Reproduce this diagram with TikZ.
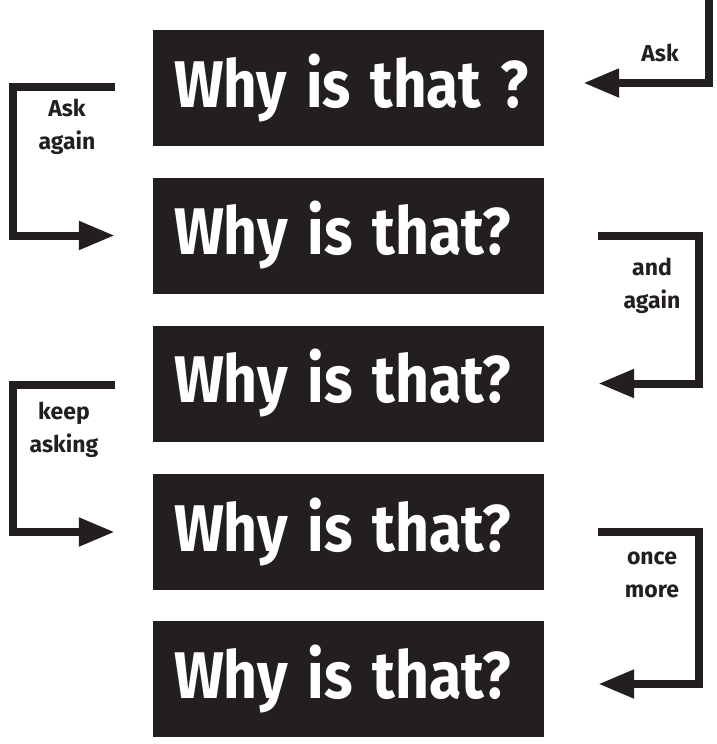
\documentclass[tikz,border=0pt]{standalone}
\usepackage{fontspec}
\usetikzlibrary{arrows.meta}
\newfontfamily\whyfont{Fira Sans}
\newfontfamily\labfont{Fira Sans}
\definecolor{dk}{HTML}{231F20}
\newcommand{\whytext}[2]{\resizebox{#1}{\height}{#2}}
\tikzset{
  whybox/.style={fill=dk, minimum width=391pt, minimum height=116pt, inner xsep=21pt, inner ysep=0pt,
    text width=349pt, align=left, text=white, text height=46pt, text depth=8pt,
    font=\whyfont\bfseries\fontsize{66}{66}\selectfont},
  conn/.style={draw=dk, line width=8pt, -{Triangle[length=36pt,width=27pt]}},
  lab/.style={text=dk, align=center, font=\labfont\bfseries\fontsize{23}{33}\selectfont}
}
\begin{document}
\begin{tikzpicture}[x=1pt,y=-1pt]
\useasboundingbox (0,0) rectangle (716,744);
\node[whybox] (b1) at (348.5,88) {\whytext{355pt}{Why is that ?}};
\node[whybox] (b2) at (348.5,235.5) {\whytext{337pt}{Why is that?}};
\node[whybox] (b3) at (348.5,383.5) {\whytext{337pt}{Why is that?}};
\node[whybox] (b4) at (348.5,532) {\whytext{337pt}{Why is that?}};
\node[whybox] (b5) at (348.5,679) {\whytext{337pt}{Why is that?}};
% free ends
\coordinate (t0) at (709,0);
\coordinate (lx) at (13,0);
\coordinate (rx) at (699,0);
\coordinate (s2) at (115,86.5);
\coordinate (s4) at (115,385);
% Ask
\draw[conn] (t0) |- ([xshift=39pt,yshift=5pt]b1.east);
\node[lab] (l1) at (660,53) {Ask};
% Ask again
\draw[conn] (s2) -- (lx |- s2) |- ([xshift=-38pt]b2.west);
\node[lab] (l2) at (67,127) {Ask\\again};
% and again
\draw[conn] ([xshift=54pt]b2.east) -- (rx |- b2.east) |- ([xshift=54pt]b3.east);
\node[lab] (l3) at (652,286) {and\\again};
% keep asking
\draw[conn] (s4) -- (lx |- s4) |- ([xshift=-38pt]b4.west);
\node[lab] (l4) at (64,430) {keep\\asking};
% once more
\draw[conn] ([xshift=54pt]b4.east) -- (rx |- b4.east) |- ([xshift=54pt,yshift=-5pt]b5.east);
\node[lab] (l5) at (652,575) {once\\more};
\end{tikzpicture}
\end{document}
